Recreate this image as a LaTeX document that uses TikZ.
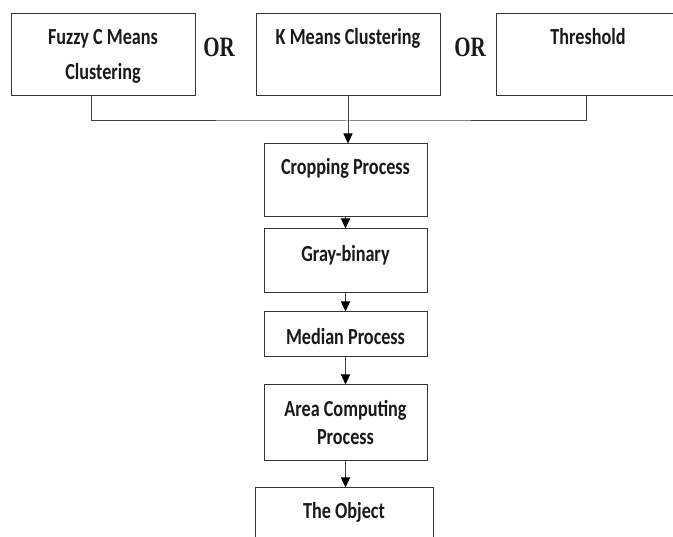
\documentclass[tikz,border=0pt]{standalone}
\usepackage{fontspec}
\setmainfont{Carlito}[FakeStretch=0.79]
\newfontfamily\orfont{Liberation Serif}[FakeStretch=0.75]
\usetikzlibrary{arrows.meta}
\begin{document}
\begin{tikzpicture}[x=1pt,y=-1pt,
  box/.style={draw=black!80,line width=1pt,rectangle,inner sep=0pt},
  lbl/.style={anchor=base,inner sep=0pt,text=black!90,font=\bfseries\fontsize{23}{27}\selectfont},
  orlbl/.style={inner sep=0pt,text=black!90,font=\orfont\bfseries\fontsize{28}{30}\selectfont},
  conn/.style={draw=black!75,line width=1pt},
  arr/.style={conn,-{Triangle[width=9pt,length=10pt,fill=black,color=black]}}]
\useasboundingbox (0,0) rectangle (673,537);
\clip (0,0) rectangle (673,537);
% boxes
\node[box,minimum width=184pt,minimum height=82pt] (fuzzy) at (103,55) {};
\node[box,minimum width=184pt,minimum height=82pt] (km) at (348,55) {};
\node[box,minimum width=180pt,minimum height=82pt] (thr) at (586,55) {};
\node[box,minimum width=163pt,minimum height=73pt] (crop) at (345.5,180.5) {};
\node[box,minimum width=163pt,minimum height=64pt] (gray) at (345.5,261) {};
\node[box,minimum width=163pt,minimum height=45pt] (med) at (345.5,334.5) {};
\node[box,minimum width=163pt,minimum height=76pt] (area) at (345.5,423) {};
\node[box,minimum width=178pt,minimum height=72pt] (obj) at (344,524) {};
% labels
\node[lbl] (tfa) at ([yshift=-31pt]fuzzy.north) {Fuzzy C Means};
\node[lbl] (tfb) at ([yshift=-66pt]fuzzy.north) {Clustering};
\node[lbl] (tkm) at ([yshift=-31pt]km.north) {K Means Clustering};
\node[lbl] (tthr) at ([yshift=-31pt,xshift=2pt]thr.north) {Threshold};
\node[lbl] (tcrop) at ([yshift=-31pt]crop.north) {Cropping Process};
\node[lbl] (tgray) at ([yshift=-33pt]gray.north) {Gray-binary};
\node[lbl] (tmed) at ([yshift=-33pt]med.north) {Median Process};
\node[lbl] (tareaa) at ([yshift=-32pt]area.north) {Area Computing};
\node[lbl] (tareab) at ([yshift=-60pt]area.north) {Process};
\node[lbl] (tobj) at ([yshift=-31pt]obj.north) {The Object};
\node[orlbl] (or1) at (219,47) {OR};
\node[orlbl] (or2) at (470,47) {OR};
% connectors
\coordinate (fz) at ([xshift=-12pt]fuzzy.south);
\coordinate (join) at (km.south |- 0,121);
\draw[conn] (fz) |- (join) -| (thr.south);
\draw[arr] (km.south) -- (km.south |- crop.north);
\draw[arr] (crop.south) -- (gray.north);
\draw[arr] (gray.south) -- (med.north);
\draw[arr] (med.south) -- (area.north);
\draw[arr] (area.south) -- (area.south |- obj.north);
\end{tikzpicture}
\end{document}
